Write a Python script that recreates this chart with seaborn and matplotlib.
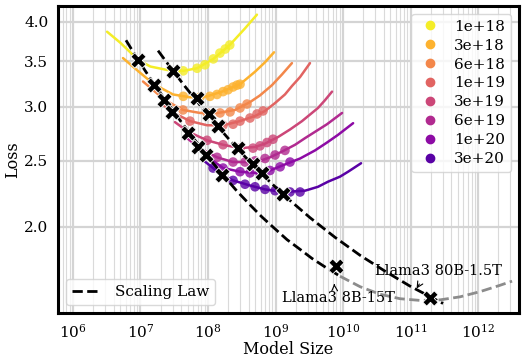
import matplotlib
matplotlib.use("Agg")
import matplotlib.pyplot as plt
import seaborn as sns
from matplotlib.lines import Line2D
from matplotlib.ticker import NullLocator, FixedLocator, FixedFormatter, LogFormatterSciNotation

# ---------------- data ----------------
budgets = ["1e+18", "3e+18", "6e+18", "1e+19", "3e+19", "6e+19", "1e+20", "3e+20"]

# IsoFLOP curves: model size / loss
n_1e18 = [3.2e6, 5.0e6, 9.2e6, 1.4e7, 2.5e7, 4.3e7, 6.9e7, 1.2e8, 2.1e8, 3.5e8, 5.3e8]
l_1e18 = [3.87, 3.73, 3.52, 3.44, 3.40, 3.39, 3.42, 3.53, 3.70, 3.91, 4.10]
n_3e18 = [5.5e6, 9.8e6, 1.58e7, 3.03e7, 5.41e7, 9.67e7, 1.61e8, 2.98e8, 4.97e8, 6.99e8, 9.5e8]
l_3e18 = [3.54, 3.37, 3.24, 3.13, 3.10, 3.11, 3.16, 3.24, 3.38, 3.49, 3.61]
n_6e18 = [1.09e7, 2.31e7, 4.26e7, 7.61e7, 1.41e8, 2.51e8, 4.19e8, 5.89e8, 8.87e8, 1.25e9, 1.75e9]
l_6e18 = [3.27, 3.07, 2.97, 2.94, 2.94, 2.97, 3.05, 3.12, 3.23, 3.35, 3.48]
n_1e19 = [2.01e7, 2.93e7, 5.41e7, 9.67e7, 1.67e8, 2.98e8, 4.97e8, 6.99e8, 9.84e8, 1.38e9, 1.75e9, 2.31e9, 3.24e9]
l_1e19 = [3.04, 2.95, 2.86, 2.82, 2.82, 2.86, 2.91, 2.96, 3.04, 3.13, 3.22, 3.32, 3.48]
n_3e19 = [3.24e7, 5.06e7, 9.67e7, 1.67e8, 2.98e8, 4.97e8, 6.99e8, 1.09e9, 1.64e9, 2.47e9, 4.26e9, 5.41e9, 6.87e9]
l_3e19 = [2.85, 2.76, 2.68, 2.64, 2.61, 2.62, 2.65, 2.71, 2.78, 2.86, 2.99, 3.07, 3.16]
n_6e19 = [4.89e7, 7.11e7, 1.36e8, 2.35e8, 4.19e8, 5.89e8, 8.29e8, 1.25e9, 1.95e9, 2.74e9, 4.12e9, 5.79e9, 9.67e9]
l_6e19 = [2.70, 2.62, 2.53, 2.49, 2.49, 2.50, 2.53, 2.58, 2.64, 2.70, 2.77, 2.83, 2.94]
n_1e20 = [6.87e7, 9.03e7, 1.67e8, 2.98e8, 5.14e8, 8.29e8, 1.53e9, 2.31e9, 3.85e9, 5.79e9, 8.43e9, 1.41e10]
l_1e20 = [2.61, 2.55, 2.44, 2.41, 2.40, 2.42, 2.48, 2.52, 2.59, 2.66, 2.73, 2.84]
n_3e20 = [7.87e7, 1.19e8, 1.61e8, 2.35e8, 4.19e8, 6.99e8, 1.29e9, 2.74e9, 4.26e9, 6.0e9, 9.03e9, 1.19e10, 1.85e10]
l_3e20 = [2.52, 2.44, 2.38, 2.34, 2.30, 2.27, 2.25, 2.26, 2.29, 2.33, 2.37, 2.41, 2.48]

# measured runs (dots)
dn_1e18 = [4.3e7, 6.9e7, 9.0e7, 1.2e8, 1.5e8, 1.8e8, 2.1e8]
dl_1e18 = [3.39, 3.42, 3.46, 3.53, 3.60, 3.65, 3.70]
dn_3e18 = [4.3e7, 7.6e7, 1.07e8, 1.36e8, 1.67e8, 1.98e8, 2.35e8, 2.69e8, 2.98e8]
dl_3e18 = [3.11, 3.10, 3.11, 3.13, 3.16, 3.18, 3.21, 3.23, 3.24]
dn_6e18 = [4.26e7, 9.67e7, 1.51e8, 2.12e8, 2.98e8, 3.78e8]
dl_6e18 = [2.97, 2.94, 2.94, 2.95, 2.99, 3.03]
dn_1e19 = [5.41e7, 1.67e8, 2.35e8, 2.98e8, 4.19e8, 5.32e8, 6.53e8]
dl_1e19 = [2.86, 2.82, 2.83, 2.86, 2.89, 2.93, 2.96]
dn_3e19 = [9.67e7, 1.67e8, 2.98e8, 4.64e8, 5.89e8, 7.48e8, 9.18e8]
dl_3e19 = [2.68, 2.64, 2.61, 2.61, 2.63, 2.66, 2.69]
dn_6e19 = [1.36e8, 2.35e8, 3.53e8, 4.97e8, 6.99e8, 9.84e8, 1.38e9]
dl_6e19 = [2.53, 2.49, 2.49, 2.50, 2.52, 2.55, 2.59]
dn_1e20 = [1.67e8, 2.98e8, 4.19e8, 5.89e8, 8.29e8, 1.17e9, 1.64e9]
dl_1e20 = [2.44, 2.41, 2.40, 2.40, 2.42, 2.45, 2.49]
dn_3e20 = [1.19e8, 2.35e8, 3.53e8, 4.97e8, 6.99e8, 9.84e8, 1.64e9, 2.31e9]
dl_3e20 = [2.44, 2.34, 2.31, 2.29, 2.27, 2.26, 2.25, 2.25]

# scaling-law lines
law_a_n = [1.82e7, 3.03e7, 4.56e7, 1.07e8, 2.51e8, 5.89e8, 1.38e9, 3.24e9, 7.61e9, 1.79e10, 4.19e10, 9.84e10, 3.03e11]
law_a_l = [3.63, 3.39, 3.216, 2.895, 2.628, 2.404, 2.219, 2.063, 1.930, 1.816, 1.721, 1.636, 1.543]
law_b_n = [6.1e6, 9.18e6, 1.38e7, 2.08e7, 3.24e7, 5.06e7, 7.61e7, 1.15e8, 1.79e8, 2.69e8, 4.19e8,
           6.31e8, 9.84e8, 1.48e9, 2.31e9, 3.47e9, 5.41e9, 9.03e9]
law_b_l = [3.76, 3.52, 3.31, 3.12, 2.935, 2.765, 2.622, 2.49, 2.364, 2.256, 2.154,
           2.067, 1.986, 1.915, 1.853, 1.797, 1.746, 1.692]
law_b_ext_n = [9.03e9, 1.79e10, 3.53e10, 6.99e10, 1.38e11, 2.74e11, 5.41e11, 1.07e12, 2.12e12, 3.19e12]
law_b_ext_l = [1.692, 1.633, 1.592, 1.568, 1.559, 1.562, 1.578, 1.606, 1.641, 1.664]

# optimal points (X markers)
opt_a_n = [3.03e7, 6.87e7, 1.03e8, 1.41e8, 2.78e8, 4.64e8, 6.31e8, 1.29e9]
opt_a_l = [3.39, 3.09, 2.93, 2.81, 2.61, 2.47, 2.40, 2.235]
opt_b_n = [9.2e6, 1.58e7, 2.23e7, 2.93e7, 5.06e7, 7.11e7, 9.19e7, 1.61e8]
opt_b_l = [3.52, 3.23, 3.07, 2.95, 2.75, 2.62, 2.55, 2.38]
llama_n = [7.87e9, 1.95e11]
llama_l = [1.751, 1.571]

x_ticks = [1e6, 1e7, 1e8, 1e9, 1e10, 1e11, 1e12]
y_ticks = [2.0, 2.5, 3.0, 3.5, 4.0]

curves_n = [n_1e18, n_3e18, n_6e18, n_1e19, n_3e19, n_6e19, n_1e20, n_3e20]
curves_l = [l_1e18, l_3e18, l_6e18, l_1e19, l_3e19, l_6e19, l_1e20, l_3e20]
dots_n = [dn_1e18, dn_3e18, dn_6e18, dn_1e19, dn_3e19, dn_6e19, dn_1e20, dn_3e20]
dots_l = [dl_1e18, dl_3e18, dl_6e18, dl_1e19, dl_3e19, dl_6e19, dl_1e20, dl_3e20]

# ---------------- style ----------------
sns.set_theme(style="whitegrid")
plt.rcParams['font.family'] = ['DejaVu Serif']
plt.rcParams['mathtext.fontset'] = 'dejavuserif'
plt.rcParams['text.color'] = 'black'
plt.rcParams['axes.labelcolor'] = 'black'
plt.rcParams['xtick.color'] = 'black'
plt.rcParams['ytick.color'] = 'black'

cmap = sns.color_palette("plasma", as_cmap=True)
levels = [0.97, 0.83, 0.71, 0.60, 0.50, 0.40, 0.29, 0.16]
colors = [cmap(v) for v in levels]

fig = plt.figure(figsize=(5.27, 3.62), dpi=100)
ax = fig.add_axes([58 / 527, 1 - 313 / 362, (519 - 58) / 527, (313 - 6) / 362])
ax.set_xscale('log')
ax.set_yscale('log')

for n, l, dn, dl, c in zip(curves_n, curves_l, dots_n, dots_l, colors):
    sns.lineplot(x=n, y=l, color=c, lw=1.8, ax=ax, sort=False, estimator=None, zorder=3)
    sns.scatterplot(x=dn, y=dl, color=c, s=48, alpha=0.8, edgecolor='none', ax=ax, zorder=3)

sns.lineplot(x=law_b_ext_n, y=law_b_ext_l, color='#8c8c8c', lw=2, linestyle='--',
             ax=ax, sort=False, estimator=None, zorder=4)
sns.lineplot(x=law_a_n, y=law_a_l, color='black', lw=2, linestyle='--',
             ax=ax, sort=False, estimator=None, zorder=5)
sns.lineplot(x=law_b_n, y=law_b_l, color='black', lw=2, linestyle='--',
             ax=ax, sort=False, estimator=None, zorder=5)

for xs, ys in [(opt_a_n, opt_a_l), (opt_b_n, opt_b_l), (llama_n, llama_l)]:
    sns.scatterplot(x=xs, y=ys, marker='X', s=120, color='black', edgecolor='white',
                    linewidth=0.6, ax=ax, zorder=6)

ax.annotate('Llama3 80B-1.5T', xy=(1.17e11, 1.61), xytext=(2.55e11, 1.72),
            ha='center', va='center', fontsize=10.5,
            arrowprops=dict(arrowstyle='->', color='black', lw=0.8, relpos=(0.38, 0)),
            zorder=7)
ax.annotate('Llama3 8B-15T', xy=(7.36e9, 1.664), xytext=(8.43e9, 1.571),
            ha='center', va='center', fontsize=10.5,
            arrowprops=dict(arrowstyle='->', color='black', lw=0.8, relpos=(0.47, 1)),
            zorder=7)

# ---------------- axes ----------------
ax.set_xlim(6.0e5, 4.04e12)
ax.set_ylim(1.494, 4.222)
ax.xaxis.set_major_locator(FixedLocator(x_ticks))
ax.xaxis.set_major_formatter(LogFormatterSciNotation())
ax.yaxis.set_major_locator(FixedLocator(y_ticks))
ax.yaxis.set_major_formatter(FixedFormatter([f"{v:.1f}" for v in y_ticks]))
ax.yaxis.set_minor_locator(NullLocator())

ax.grid(True, which='major', color='#d4d4d4', lw=1.6)
ax.grid(True, which='minor', axis='x', color='#dadada', lw=0.8)
ax.set_axisbelow(True)

for s in ax.spines.values():
    s.set_color('black')
    s.set_linewidth(2.2)

ax.tick_params(which='major', length=4, width=1, direction='out', labelsize=11, pad=3)
ax.tick_params(which='minor', axis='x', length=2, width=0.8, direction='out')
ax.set_xlabel('Model Size', fontsize=11.5, labelpad=0)
ax.set_ylabel('Loss', fontsize=11.5, labelpad=2)

# ---------------- legends ----------------
handles = [Line2D([], [], marker='o', ls='none', color=c, ms=6) for c in colors]
leg1 = ax.legend(handles, budgets, loc='upper right', fontsize=11, handlelength=1.6,
                 handletextpad=0.8, labelspacing=0.32, borderaxespad=0.5, frameon=True,
                 framealpha=0.8, edgecolor='#d0d0d0')
ax.add_artist(leg1)
h2 = [Line2D([], [], color='black', lw=2, ls='--')]
ax.legend(h2, ['Scaling Law'], loc='lower left', fontsize=11, handlelength=1.9,
          handletextpad=0.9, borderaxespad=0.5, frameon=True, framealpha=0.8,
          edgecolor='#d0d0d0')

fig.savefig('out.png', dpi=100)
